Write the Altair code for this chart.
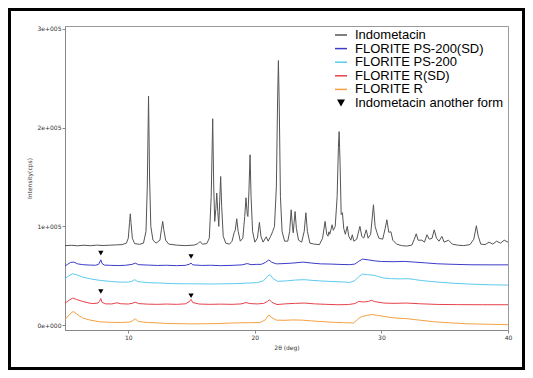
import altair as alt
import pandas as pd

SERIES = ["Indometacin", "FLORITE PS-200(SD)", "FLORITE PS-200", "FLORITE R(SD)", "FLORITE R"]
COLORS = ["#555555", "#3c3cc8", "#5ccbef", "#e8414b", "#f4a142"]

# (2theta [deg], intensity [kcps])
INDOMETACIN = [
    (5.0, 80.5), (5.5, 80.8), (6.0, 80.3), (6.5, 80.9), (7.0, 80.4), (7.5, 81.0), (8.0, 80.6),
    (8.5, 80.9), (9.0, 81.2), (9.5, 81.5), (9.85, 83), (10.0, 88), (10.1, 104), (10.16, 112.7),
    (10.22, 103), (10.32, 88), (10.5, 82.5), (10.9, 81.8), (11.2, 83), (11.4, 95), (11.5, 140),
    (11.6, 232), (11.68, 150), (11.78, 100), (11.95, 86), (12.2, 83), (12.5, 86), (12.62, 97),
    (12.72, 105), (12.8, 97), (12.95, 86), (13.2, 82), (13.8, 81), (14.5, 80.5), (15.2, 81),
    (15.5, 82.5), (15.67, 84.7), (15.85, 82), (16.2, 82.5), (16.4, 88), (16.55, 130), (16.67, 209),
    (16.75, 140), (16.83, 105), (16.92, 118), (16.99, 133.7), (17.07, 115), (17.15, 100),
    (17.22, 125), (17.3, 150.5), (17.38, 120), (17.5, 90), (17.7, 83), (18.0, 82), (18.2, 85),
    (18.36, 93.5), (18.45, 96), (18.57, 107.7), (18.68, 95), (18.85, 85), (19.05, 88), (19.2, 110),
    (19.3, 129), (19.4, 112), (19.45, 110), (19.53, 135), (19.62, 172.5), (19.7, 130), (19.82, 95),
    (20.0, 84), (20.2, 88), (20.36, 104), (20.48, 90), (20.65, 84), (20.9, 89.4), (21.05, 85),
    (21.25, 90), (21.4, 94.5), (21.55, 100), (21.7, 140), (21.8, 230), (21.86, 268), (21.93, 220),
    (22.02, 130), (22.15, 95), (22.35, 85), (22.6, 85), (22.75, 95), (22.87, 116.8), (22.97, 100),
    (23.03, 93.5), (23.1, 104), (23.18, 115), (23.28, 98), (23.45, 86), (23.7, 84), (23.9, 95),
    (24.03, 113.8), (24.15, 95), (24.35, 83), (24.7, 82), (25.1, 81.5), (25.35, 88), (25.55, 105),
    (25.68, 92), (25.78, 90), (25.85, 94.5), (25.92, 92), (26.02, 97), (26.1, 101.6), (26.2, 96),
    (26.35, 100), (26.5, 130), (26.6, 180), (26.66, 196), (26.73, 165), (26.82, 112), (26.92, 113.8),
    (27.02, 98), (27.15, 92), (27.3, 100), (27.42, 90), (27.58, 86), (27.7, 91.5), (27.82, 85),
    (28.05, 87), (28.3, 100), (28.45, 90), (28.6, 88), (28.8, 96.5), (28.95, 88), (29.15, 92),
    (29.37, 121.9), (29.5, 100), (29.65, 93.5), (29.8, 88), (30.1, 87), (30.3, 98), (30.43, 106.7),
    (30.58, 94), (30.75, 94.5), (30.9, 86), (31.2, 82), (31.6, 80.5), (32.0, 80), (32.4, 81),
    (32.6, 87), (32.75, 92.5), (32.9, 86), (33.2, 86), (33.4, 84), (33.6, 91.5), (33.78, 87),
    (34.0, 88), (34.17, 96.5), (34.35, 88), (34.55, 85), (34.78, 89.8), (34.95, 84), (35.3, 86),
    (35.6, 82), (36.0, 81), (36.5, 80.5), (37.0, 81.5), (37.3, 87), (37.5, 100.6), (37.65, 90),
    (37.85, 82), (38.2, 81.5), (38.5, 84), (38.8, 82), (39.1, 85), (39.4, 83), (39.7, 86), (40.0, 84),
]

PS200_SD = [
    (5.0, 60.0), (5.2, 61.5), (5.45, 63.5), (5.7, 63.8), (6.0, 62.0), (6.4, 61.2), (6.9, 60.8),
    (7.4, 60.6), (7.65, 61.5), (7.75, 64), (7.83, 66.1), (7.92, 62.5), (8.1, 60.8), (8.6, 60.5),
    (9.2, 60.3), (9.8, 60.6), (10.3, 61.5), (10.55, 62.8), (10.8, 61.2), (11.5, 60.8), (12.3, 60.4),
    (13.0, 60.6), (13.8, 60.2), (14.5, 60.5), (14.8, 61.5), (14.95, 62.8), (15.1, 61.0),
    (15.8, 60.4), (16.5, 60.6), (17.3, 60.2), (18.2, 60.5), (19.0, 61.0), (19.4, 62.3),
    (19.7, 61.2), (20.1, 61.5), (20.5, 61.5), (20.85, 63.5), (21.1, 66.0), (21.35, 63.5),
    (21.7, 62.0), (22.3, 62.3), (23.0, 62.8), (23.8, 63.8), (24.5, 62.8), (25.2, 62.0),
    (26.0, 61.8), (26.8, 61.4), (27.5, 61.2), (27.9, 61.8), (28.2, 64.5), (28.5, 66.8),
    (29.0, 66.0), (29.5, 65.0), (30.0, 64.4), (31.0, 64.2), (31.8, 64.5), (32.6, 63.8),
    (33.5, 63.0), (34.4, 62.1), (35.5, 61.6), (37.0, 61.1), (38.5, 61.0), (40.0, 61.0),
]

PS200 = [
    (5.0, 47.0), (5.3, 50.0), (5.6, 52.0), (5.9, 51.0), (6.4, 48.6), (7.0, 46.8), (7.8, 45.2),
    (8.6, 44.2), (9.4, 43.5), (10.0, 43.5), (10.3, 44.5), (10.5, 46.0), (10.75, 44.0), (11.5, 43.0),
    (12.5, 42.6), (13.5, 42.0), (14.5, 41.8), (15.5, 41.8), (16.5, 41.6), (17.5, 41.8), (18.5, 42.0),
    (19.4, 42.5), (20.2, 43.0), (20.7, 45.0), (21.05, 50.0), (21.2, 51.0), (21.45, 47.0),
    (21.8, 44.3), (22.5, 44.8), (23.2, 45.6), (23.9, 46.0), (24.6, 45.2), (25.3, 44.6), (26.0, 44.2),
    (26.8, 43.8), (27.5, 43.2), (27.9, 45.0), (28.2, 49.0), (28.5, 51.7), (28.9, 51.0), (29.4, 50.5),
    (29.8, 49.0), (30.2, 47.6), (30.8, 47.0), (31.5, 46.8), (32.1, 47.0), (32.6, 46.2), (33.1, 45.2),
    (33.8, 44.3), (34.4, 43.6), (35.5, 42.5), (37.0, 41.5), (38.5, 40.8), (40.0, 40.5),
]

R_SD = [
    (5.0, 22.0), (5.3, 25.0), (5.6, 27.3), (5.9, 26.0), (6.4, 23.9), (6.9, 22.3), (7.2, 21.8),
    (7.6, 22.3), (7.72, 24.0), (7.83, 26.8), (7.93, 23.0), (8.2, 21.5), (8.7, 21.4), (9.1, 22.6),
    (9.4, 21.6), (10.0, 21.3), (10.3, 22.0), (10.55, 23.2), (10.8, 21.8), (11.5, 21.2), (12.3, 21.0),
    (13.0, 21.3), (13.8, 21.0), (14.5, 21.5), (14.8, 23.5), (14.96, 26.0), (15.1, 22.8), (15.6, 21.3),
    (16.4, 21.0), (17.3, 21.2), (18.2, 21.0), (18.9, 21.4), (19.3, 22.8), (19.6, 21.8), (20.2, 21.4),
    (20.7, 22.0), (21.0, 24.0), (21.15, 25.6), (21.35, 23.0), (21.75, 20.8), (22.4, 21.5),
    (23.2, 22.0), (23.9, 22.3), (24.7, 21.5), (25.6, 21.0), (26.5, 20.6), (27.4, 20.8), (27.9, 21.8),
    (28.2, 23.9), (28.6, 23.4), (29.0, 24.0), (29.2, 25.2), (29.45, 23.8), (30.2, 22.3), (31.0, 22.0),
    (32.0, 22.3), (33.0, 21.6), (34.4, 20.9), (36.0, 20.7), (38.0, 20.6), (40.0, 20.6),
]

R = [
    (5.0, 5.5), (5.3, 10.0), (5.65, 13.8), (5.95, 11.0), (6.4, 7.1), (7.0, 5.0), (7.8, 3.2),
    (8.6, 2.8), (9.4, 2.6), (10.1, 3.0), (10.35, 4.5), (10.55, 6.3), (10.8, 3.6), (11.5, 2.6),
    (12.3, 2.2), (13.0, 1.6), (14.0, 1.4), (15.0, 1.2), (16.0, 1.3), (17.0, 1.5), (18.0, 2.0),
    (18.8, 2.3), (19.6, 2.4), (20.4, 2.6), (20.8, 5.0), (21.1, 10.2), (21.35, 7.5), (21.7, 5.0),
    (22.3, 4.8), (23.0, 5.2), (23.7, 5.0), (24.5, 4.2), (25.3, 3.5), (26.2, 2.8), (27.0, 2.4),
    (27.8, 2.2), (28.1, 5.5), (28.4, 8.5), (28.8, 9.6), (29.2, 10.7), (29.7, 9.8), (30.2, 8.7),
    (31.0, 7.3), (32.0, 6.5), (33.0, 5.0), (34.2, 3.3), (35.5, 2.2), (36.8, 1.3), (38.5, 0.8),
    (40.0, 0.4),
]

MARKER_LABEL = "Indometacin another form"
MARKER_X = [7.83, 14.96, 7.83, 14.96]
MARKER_Y = [72.9, 69.5, 34.0, 29.7]

X_TICKS = [10, 20, 30, 40]
Y_TICKS = [0, 100, 200, 300]

rows = []
for name, pts in zip(SERIES, [INDOMETACIN, PS200_SD, PS200, R_SD, R]):
    for x, y in pts:
        rows.append({"series": name, "x": x, "y": y})
df = pd.DataFrame(rows)
mk = pd.DataFrame({"x": MARKER_X, "y": MARKER_Y})

legend_labels = SERIES + [MARKER_LABEL]
leg = pd.DataFrame({"series": legend_labels, "row": list(range(len(legend_labels)))})
leg_lines = leg[leg["series"] != MARKER_LABEL]
leg_marker = leg[leg["series"] == MARKER_LABEL]

xs = alt.Scale(domain=[5, 40], nice=False, zero=False)
ys = alt.Scale(domain=[-5, 303], nice=False, zero=False)
ly = alt.Scale(domain=[0, 5], range=[9, 77], nice=False, zero=False)
cs = alt.Scale(domain=SERIES, range=COLORS)

axis_common = dict(
    grid=False, tickSize=3, tickColor="#888888", domainColor="#888888",
    labelFont="DejaVu Sans", labelFontSize=6, labelColor="#333333", labelPadding=1,
    titleFont="DejaVu Sans", titleFontSize=6, titleFontWeight="normal", titleColor="#333333",
)
xaxis = alt.Axis(values=X_TICKS, title="2θ (deg)", labelFlush=False,
                 titleY=17, titleBaseline="middle", **axis_common)
yaxis = alt.Axis(values=Y_TICKS, title="Intensity(cps)",
                 labelExpr="datum.value == 0 ? '0e+000' : (datum.value / 100) + 'e+005'",
                 titleX=-36, titleY=152, titleBaseline="middle", titleAngle=270, **axis_common)

border = alt.Chart(pd.DataFrame({"k": [0]})).mark_rect(
    filled=False, fillOpacity=0, stroke="black", strokeWidth=3, clip=False
).encode(x=alt.value(-55.5), x2=alt.value(458.5), y=alt.value(-16.5), y2=alt.value(342.5))

lines = alt.Chart(df).mark_line(strokeWidth=1, clip=True).encode(
    x=alt.X("x:Q", scale=xs, axis=xaxis),
    y=alt.Y("y:Q", scale=ys, axis=yaxis),
    color=alt.Color("series:N", scale=cs, legend=None),
    order=alt.Order("x:Q"),
)

points = alt.Chart(mk).mark_point(shape="triangle-down", filled=True, color="black",
                                  size=28, opacity=1).encode(
    x=alt.X("x:Q", scale=xs),
    y=alt.Y("y:Q", scale=ys, axis=None),
)

leg_rule = alt.Chart(leg_lines).mark_rule(strokeWidth=1.5).encode(
    x=alt.value(270), x2=alt.value(282),
    y=alt.Y("row:Q", scale=ly, axis=None),
    color=alt.Color("series:N", scale=cs, legend=None),
)

leg_tri = alt.Chart(leg_marker).mark_point(shape="triangle-down", filled=True, color="black",
                                           size=64, opacity=1).encode(
    x=alt.value(276),
    y=alt.Y("row:Q", scale=ly, axis=None),
)

leg_text = alt.Chart(leg).mark_text(align="left", baseline="middle", font="Liberation Sans",
                                    fontSize=13, color="black").encode(
    x=alt.value(290),
    y=alt.Y("row:Q", scale=ly, axis=None),
    text="series:N",
)

chart = alt.layer(border, lines, points, leg_rule, leg_tri, leg_text).resolve_scale(
    y="independent"
).properties(
    width=443, height=304,
    padding={"left": 57, "right": 17, "top": 18, "bottom": 40},
    autosize=alt.AutoSizeParams(type="none"),
    background="white",
).configure_view(stroke="#999999", strokeWidth=1)

chart.save("out.html", embed_options={"renderer": "svg", "actions": False})
